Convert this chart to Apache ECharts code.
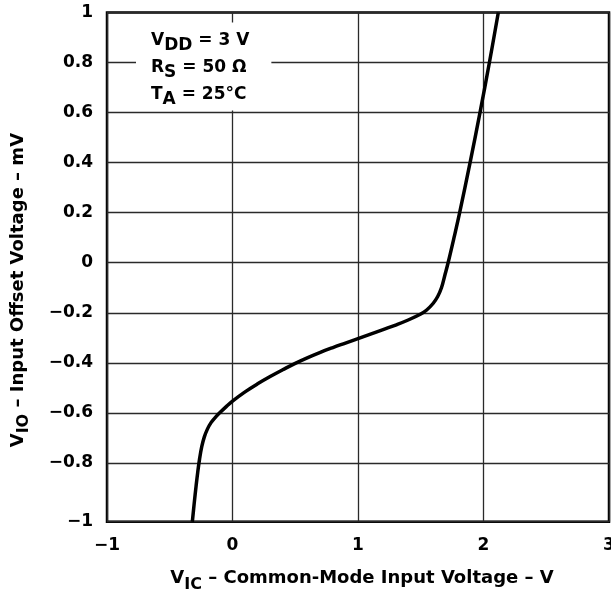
<!DOCTYPE html>
<html>
<head>
<meta charset="utf-8">
<script src="https://cdn.jsdelivr.net/npm/echarts@6/dist/echarts.min.js"></script>
<style>html,body{margin:0;padding:0;background:#fff;}#c{width:611px;height:594px;}</style>
</head>
<body>
<div id="c"></div>
<script>
// Common-mode input voltage (V) vs input offset voltage (mV)
const vIC = [-0.32, -0.305, -0.29, -0.277, -0.262, -0.245, -0.225, -0.2, -0.171, -0.14, -0.104, -0.05, 0.0, 0.1, 0.2, 0.3, 0.4, 0.5, 0.6, 0.7, 0.8, 0.9, 1.0, 1.1, 1.2, 1.3, 1.4, 1.5, 1.545, 1.598, 1.635, 1.665, 1.692, 1.718, 1.765, 1.81, 1.893, 1.972, 2.047, 2.118];
const vIO = [-1.035, -0.961, -0.892, -0.837, -0.783, -0.735, -0.697, -0.665, -0.639, -0.62, -0.601, -0.575, -0.553, -0.516, -0.484, -0.455, -0.428, -0.402, -0.379, -0.358, -0.339, -0.321, -0.303, -0.285, -0.267, -0.249, -0.229, -0.205, -0.19, -0.163, -0.135, -0.1, -0.05, 0.0, 0.1, 0.2, 0.4, 0.6, 0.8, 1.0];

const xTickValues = [-1, 0, 1, 2, 3];
const xTickLabels = ['\u22121', '0', '1', '2', '3'];
const yTickValues = [-1.035, -0.8, -0.6, -0.4, -0.2, 0, 0.2, 0.4, 0.6, 0.8, 1];
const yTickLabels = ['\u22121', '\u22120.8', '\u22120.6', '\u22120.4', '\u22120.2', '0', '0.2', '0.4', '0.6', '0.8', '1'];

const conditions = ['V{s|DD} = 3 V', 'R{s|S} = 50 \u03A9', 'T{s|A} = 25\u00B0C'];

const FONT = 'DejaVu Sans';
const data = vIC.map((x, i) => [x, vIO[i]]);

const chart = echarts.init(document.getElementById('c'), null, {renderer: 'canvas'});
chart.setOption({
  animation: false,
  backgroundColor: '#fff',
  title: {
    text: conditions.join('\n'),
    left: 136,
    top: 23,
    padding: [4, 22, 2, 15],
    backgroundColor: '#fff',
    textStyle: {
      fontFamily: FONT, fontWeight: 'bold', fontSize: 17, color: '#000', lineHeight: 27,
      rich: {
        s: {fontFamily: FONT, fontWeight: 'bold', fontSize: 17, color: '#000', lineHeight: 27, padding: [11, 0, 0, 0]}
      }
    },
    z: 10
  },
  grid: {
    left: 107, right: 2, top: 12.5, bottom: 72.3,
    containLabel: false, outerBoundsMode: 'none',
    show: true, borderColor: '#000', borderWidth: 2.5, backgroundColor: 'transparent'
  },
  xAxis: {
    type: 'value', min: -1, max: 3, interval: 1,
    name: 'V{s|IC} \u2013 Common-Mode Input Voltage \u2013 V',
    nameLocation: 'middle', nameGap: 48,
    nameTextStyle: {
      fontFamily: FONT, fontWeight: 'bold', fontSize: 18, color: '#000', lineHeight: 18, padding: [0, 0, 0, 8],
      rich: {s: {fontFamily: FONT, fontWeight: 'bold', fontSize: 16, color: '#000', lineHeight: 18, padding: [12, 0, 0, 0]}}
    },
    axisLine: {show: false},
    axisTick: {show: false},
    axisLabel: {
      margin: 15, fontFamily: FONT, fontWeight: 'bold', fontSize: 17, color: '#000',
      formatter: v => { const i = xTickValues.findIndex(t => Math.abs(t - v) < 1e-6); return i >= 0 ? xTickLabels[i] : ''; }
    },
    splitLine: {show: true, lineStyle: {color: '#2a2a2a', width: 1.3}}
  },
  yAxis: {
    type: 'value', min: -1.035, max: 1,
    name: 'V{s|IO} \u2013 Input Offset Voltage \u2013 mV',
    nameLocation: 'middle', nameGap: 80,
    nameTextStyle: {
      fontFamily: FONT, fontWeight: 'bold', fontSize: 18, color: '#000', lineHeight: 18, padding: [0, 46, 0, 0],
      rich: {s: {fontFamily: FONT, fontWeight: 'bold', fontSize: 16, color: '#000', lineHeight: 18, padding: [12, 0, 0, 0]}}
    },
    axisLine: {show: false},
    axisTick: {show: false, customValues: yTickValues},
    axisLabel: {
      customValues: yTickValues,
      margin: 14, fontFamily: FONT, fontWeight: 'bold', fontSize: 17, color: '#000',
      formatter: v => { const i = yTickValues.findIndex(t => Math.abs(t - v) < 1e-6); return i >= 0 ? yTickLabels[i] : ''; }
    },
    splitLine: {show: true, lineStyle: {color: '#2a2a2a', width: 1.3}}
  },
  series: [{
    type: 'line',
    data: data,
    smooth: 0.4,
    showSymbol: false,
    lineStyle: {color: '#000', width: 3.5},
    z: 5
  }]
});
</script>
</body>
</html>
